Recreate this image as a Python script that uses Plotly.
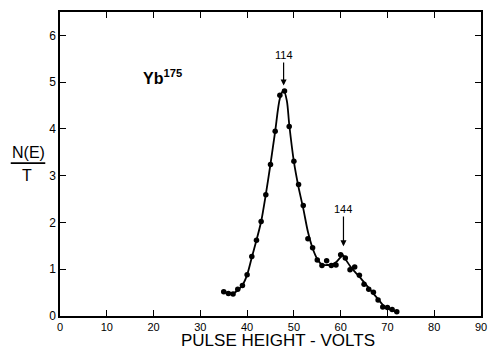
import plotly.graph_objects as go

# measured data points (pulse height in volts, N(E)/T)
volts = [35, 36, 37, 38, 39, 40, 41, 42, 43, 44, 45, 46, 47, 48, 49, 50, 51, 52, 53,
         54, 55, 56, 57, 58, 59, 60, 61, 62, 63, 64, 65, 66, 67, 68, 69, 70, 71, 72]
counts = [0.52, 0.48, 0.47, 0.57, 0.65, 0.88, 1.27, 1.62, 2.02, 2.59, 3.24, 3.95, 4.72,
          4.81, 4.05, 3.31, 2.81, 2.36, 1.65, 1.46, 1.20, 1.08, 1.18, 1.08, 1.09, 1.31,
          1.24, 0.99, 1.05, 0.87, 0.68, 0.57, 0.51, 0.34, 0.19, 0.18, 0.14, 0.09]

# hand-drawn smooth curve
curve_x = [35, 36, 37, 38, 39, 40, 41, 42, 43, 44, 45, 46, 47, 47.8, 48.5, 49, 50, 51,
           52, 53, 54, 55, 56, 57, 58, 59, 60, 60.5, 61, 62, 63, 64, 65, 66, 67, 68,
           69, 70, 71, 72]
curve_y = [0.52, 0.49, 0.48, 0.55, 0.66, 0.88, 1.25, 1.62, 2.02, 2.6, 3.25, 3.95, 4.65,
           4.83, 4.6, 4.1, 3.3, 2.75, 2.3, 1.8, 1.45, 1.22, 1.1, 1.09, 1.1, 1.15, 1.26,
           1.3, 1.22, 1.07, 0.95, 0.84, 0.72, 0.6, 0.48, 0.36, 0.24, 0.16, 0.12, 0.09]

x_ticks = [0, 10, 20, 30, 40, 50, 60, 70, 80, 90]
y_ticks = [0, 1, 2, 3, 4, 5, 6]

FONT = "Liberation Sans"

fig = go.Figure()
fig.add_trace(go.Scatter(x=curve_x, y=curve_y, mode="lines",
                         line=dict(color="black", width=1.8, shape="spline", smoothing=0.8),
                         hoverinfo="skip"))
fig.add_trace(go.Scatter(x=volts, y=counts, mode="markers",
                         marker=dict(color="black", size=5.5)))

axis_common = dict(showline=True, linecolor="black", linewidth=1.5, mirror="ticks",
                   ticks="inside", ticklen=6, tickwidth=1.3, tickcolor="black",
                   showgrid=False, zeroline=False,
                   tickfont=dict(family=FONT, size=12, color="black"))

fig.update_xaxes(range=[0, 90], tickvals=x_ticks, **axis_common)
fig.update_yaxes(range=[0, 6.5], tickvals=y_ticks, **axis_common)
fig.update_xaxes(tickfont=dict(size=11))

# peak labels with arrows
fig.add_annotation(x=47.8, y=4.93, ax=47.8, ay=5.58, axref="x", ayref="y",
                   text="114", showarrow=True, arrowhead=2, arrowsize=1, arrowwidth=1.2,
                   arrowcolor="black", font=dict(family=FONT, size=11, color="black"))
fig.add_annotation(x=60.6, y=1.49, ax=60.6, ay=2.29, axref="x", ayref="y",
                   text="144", showarrow=True, arrowhead=2, arrowsize=1, arrowwidth=1.2,
                   arrowcolor="black", font=dict(family=FONT, size=11, color="black"))
fig.add_annotation(x=17.4, y=5.12, xanchor="left", text="<b>Yb<sup>175</sup></b>",
                   showarrow=False, font=dict(family=FONT, size=16, color="black"))

# y-axis label N(E)/T
fig.add_annotation(xref="paper", yref="paper", x=-0.076, y=0.537, text="N(E)",
                   xanchor="center", yanchor="middle",
                   showarrow=False, font=dict(family=FONT, size=16, color="black"))
fig.add_annotation(xref="paper", yref="paper", x=-0.078, y=0.462, text="T",
                   xanchor="center", yanchor="middle",
                   showarrow=False, font=dict(family=FONT, size=16, color="black"))
fig.add_shape(type="line", xref="paper", yref="paper", x0=-0.117, x1=-0.035,
              y0=0.503, y1=0.503, line=dict(color="black", width=1.8))

fig.add_annotation(xref="paper", yref="paper", x=0.519, y=-0.0816, xanchor="center",
                   yanchor="middle", borderpad=0, text="PULSE HEIGHT - VOLTS",
                   showarrow=False, font=dict(family=FONT, size=17, color="black"))

fig.update_layout(width=495, height=349, margin=dict(l=60, r=8, t=12, b=33),
                  paper_bgcolor="white", plot_bgcolor="white", showlegend=False)

fig.write_html("out.html")
